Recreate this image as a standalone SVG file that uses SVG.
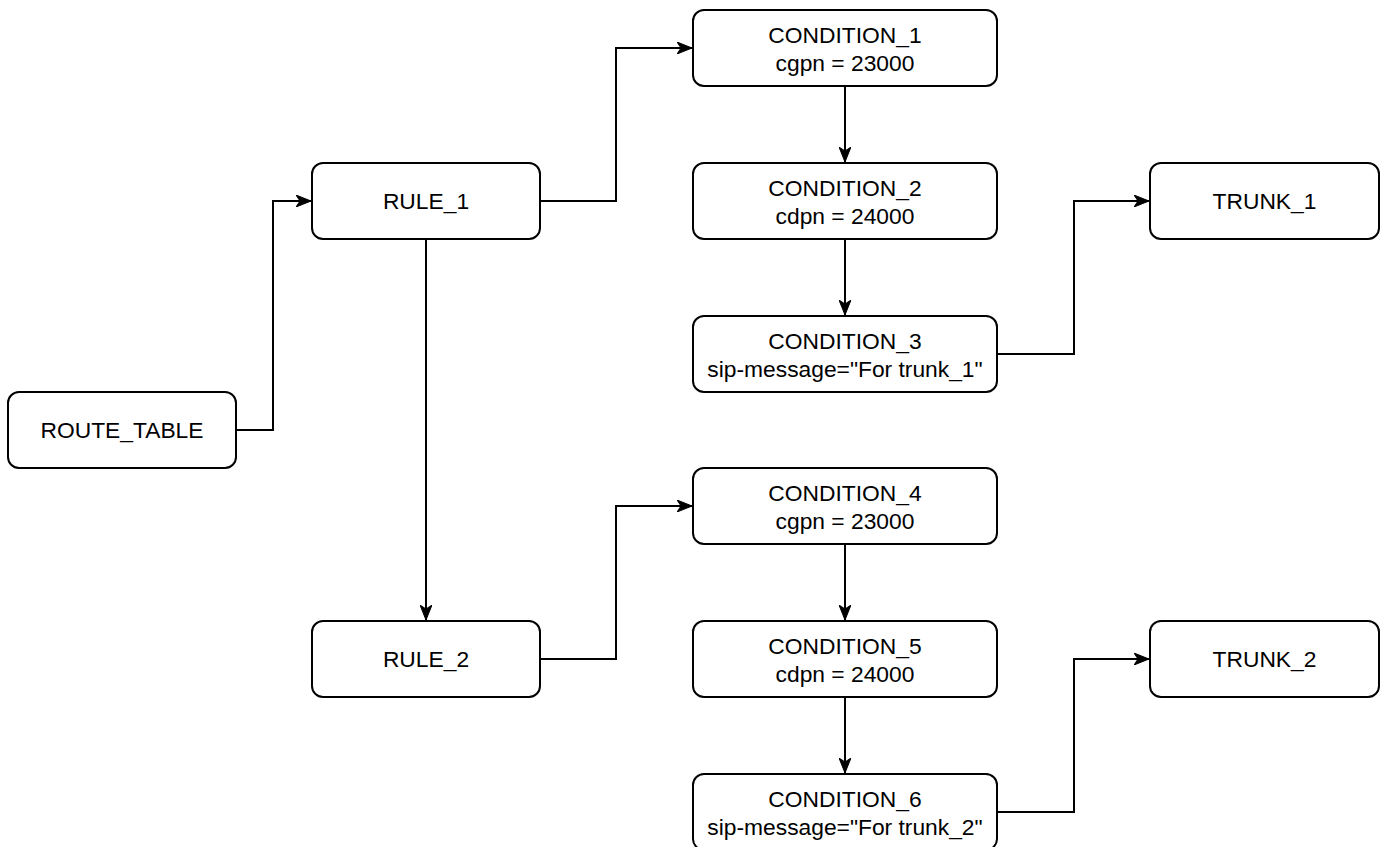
<svg xmlns="http://www.w3.org/2000/svg" width="1387" height="847" viewBox="0 0 1387 847">
<style>
.node rect{fill:#fff;stroke:#000;stroke-width:2}
.node text{font-family:"Liberation Sans",Arial,sans-serif;font-size:22.8px;fill:#000;text-anchor:middle}
.edges path{fill:none;stroke:#000;stroke-width:2}
</style>
<defs>
<marker id="arr" viewBox="0 0 15 12" markerWidth="15" markerHeight="12" refX="15" refY="6" orient="auto" markerUnits="userSpaceOnUse">
<path d="M0,0 L15,6 L0,12 L4,6 Z" fill="#000" stroke="#000" stroke-width="1"/>
</marker>
</defs>
<rect width="1387" height="847" fill="#fff"/>
<g class="edges">
<path d="M236,430 H273 V201 H311" marker-end="url(#arr)"/>
<path d="M540,201 H616 V48 H692" marker-end="url(#arr)"/>
<path d="M426,239 V620" marker-end="url(#arr)"/>
<path d="M845,86 V162" marker-end="url(#arr)"/>
<path d="M845,239 V315" marker-end="url(#arr)"/>
<path d="M997,354 H1074 V201 H1149" marker-end="url(#arr)"/>
<path d="M540,659 H616 V506 H692" marker-end="url(#arr)"/>
<path d="M845,544 V620" marker-end="url(#arr)"/>
<path d="M845,697 V773" marker-end="url(#arr)"/>
<path d="M997,812 H1074 V659 H1149" marker-end="url(#arr)"/>
</g>
<g id="route_table" class="node"><rect x="8" y="392" width="228" height="76" rx="11"/><text x="122" y="438">ROUTE_TABLE</text></g>
<g id="rule_1" class="node"><rect x="312" y="163" width="228" height="76" rx="11"/><text x="426" y="209">RULE_1</text></g>
<g id="rule_2" class="node"><rect x="312" y="621" width="228" height="76" rx="11"/><text x="426" y="667">RULE_2</text></g>
<g id="condition_1" class="node"><rect x="693" y="10" width="304" height="76" rx="11"/><text x="845" y="43.3">CONDITION_1</text><text x="845" y="71">cgpn = 23000</text></g>
<g id="condition_2" class="node"><rect x="693" y="163" width="304" height="76" rx="11"/><text x="845" y="196.3">CONDITION_2</text><text x="845" y="224">cdpn = 24000</text></g>
<g id="condition_3" class="node"><rect x="693" y="316" width="304" height="76" rx="11"/><text x="845" y="349.3">CONDITION_3</text><text x="845" y="377">sip-message="For trunk_1"</text></g>
<g id="condition_4" class="node"><rect x="693" y="468" width="304" height="76" rx="11"/><text x="845" y="501.3">CONDITION_4</text><text x="845" y="529">cgpn = 23000</text></g>
<g id="condition_5" class="node"><rect x="693" y="621" width="304" height="76" rx="11"/><text x="845" y="654.3">CONDITION_5</text><text x="845" y="682">cdpn = 24000</text></g>
<g id="condition_6" class="node"><rect x="693" y="774" width="304" height="76" rx="11"/><text x="845" y="807.3">CONDITION_6</text><text x="845" y="835">sip-message="For trunk_2"</text></g>
<g id="trunk_1" class="node"><rect x="1150" y="163" width="229" height="76" rx="11"/><text x="1264.5" y="209">TRUNK_1</text></g>
<g id="trunk_2" class="node"><rect x="1150" y="621" width="229" height="76" rx="11"/><text x="1264.5" y="667">TRUNK_2</text></g>
</svg>
